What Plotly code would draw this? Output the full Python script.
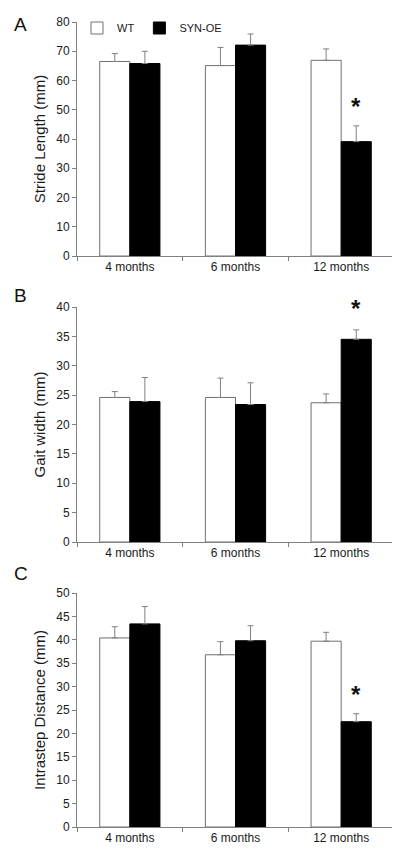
import plotly.graph_objects as go

categories = ["4 months", "6 months", "12 months"]

stride_wt = [66.5, 65.1, 66.9]
stride_wt_err = [2.7, 6.2, 3.9]
stride_syn = [65.8, 72.1, 39.1]
stride_syn_err = [4.2, 3.8, 5.4]

gait_wt = [24.6, 24.6, 23.7]
gait_wt_err = [1.0, 3.3, 1.5]
gait_syn = [23.9, 23.4, 34.5]
gait_syn_err = [4.1, 3.7, 1.6]

intra_wt = [40.4, 36.8, 39.7]
intra_wt_err = [2.4, 2.8, 1.9]
intra_syn = [43.4, 39.8, 22.5]
intra_syn_err = [3.7, 3.2, 1.7]

panels = [
    ("A", "Stride Length (mm)", stride_wt, stride_wt_err, stride_syn, stride_syn_err, 80, 10, 49.2),
    ("B", "Gait width (mm)", gait_wt, gait_wt_err, gait_syn, gait_syn_err, 40, 5, 38.8),
    ("C", "Intrastep Distance (mm)", intra_wt, intra_wt_err, intra_syn, intra_syn_err, 50, 5, 27.0),
]

W, H = 400, 851
ml, mr, mt, mb = 69, 14, 14, 32
ph = H - mt - mb
pw = W - ml - mr

def py(px):
    return 1 - (px - mt) / ph

domains = [(py(248), py(14)), (py(534), py(299)), (py(819), py(585))]
letter_y = [py(17), py(287), py(565)]

fig = go.Figure()
FONT = "Liberation Sans, Arial, sans-serif"
GRAY = "#808080"
TXT = "#1a1a1a"

for i, (letter, title, wt, wte, syn, syne, ymax, dt, star) in enumerate(panels):
    n = "" if i == 0 else str(i + 1)
    xa, ya = "x" + n, "y" + n
    fig.add_trace(go.Bar(
        x=categories, y=wt, name="WT", xaxis=xa, yaxis=ya,
        marker=dict(color="white", line=dict(color="#707070", width=1)),
        error_y=dict(type="data", symmetric=False, array=wte, arrayminus=[0, 0, 0],
                     color=GRAY, thickness=1, width=3),
        showlegend=(i == 0),
    ))
    fig.add_trace(go.Bar(
        x=categories, y=syn, name="SYN-OE", xaxis=xa, yaxis=ya,
        marker=dict(color="black", line=dict(color="black", width=1)),
        error_y=dict(type="data", symmetric=False, array=syne, arrayminus=[0, 0, 0],
                     color=GRAY, thickness=1, width=3),
        showlegend=(i == 0),
    ))
    fig.update_layout(**{
        "xaxis" + n: dict(
            domain=[0, 1], anchor=ya, type="category", tickson="boundaries",
            ticks="outside", ticklen=4, tickcolor=GRAY, showline=True, linecolor=GRAY,
            linewidth=1, tickfont=dict(size=12, color=TXT, family=FONT),
            showgrid=False, zeroline=False, automargin=False,
        ),
        "yaxis" + n: dict(
            domain=list(domains[i]), anchor=xa, range=[0, ymax], dtick=dt,
            ticks="outside", ticklen=4, tickcolor=GRAY, showline=True, linecolor=GRAY,
            linewidth=1, tickfont=dict(size=12, color=TXT, family=FONT),
            showgrid=False, zeroline=False, automargin=False,
            title=dict(text=title, font=dict(size=15, color=TXT, family=FONT), standoff=6),
        ),
    })
    fig.add_annotation(x="12 months", y=star, xref=xa, yref=ya, text="<b>*</b>",
                       showarrow=False, xshift=15, yshift=6,
                       font=dict(size=24, color="#111", family=FONT))
    fig.add_annotation(x=-0.177, y=letter_y[i], xref="paper", yref="paper", text=letter,
                       showarrow=False, xanchor="center", yanchor="middle",
                       font=dict(size=19, color="#111", family=FONT))

fig.update_layout(
    template="none",
    width=W, height=H, margin=dict(l=ml, r=mr, t=mt, b=mb, autoexpand=False),
    paper_bgcolor="white", plot_bgcolor="white",
    barmode="group", bargap=0.43, bargroupgap=0,
    legend=dict(orientation="h", x=0.0, y=py(20), xanchor="left", yanchor="middle",
                font=dict(size=11, color=TXT, family=FONT), itemwidth=30,
                bgcolor="rgba(0,0,0,0)", tracegroupgap=0),
    font=dict(family=FONT),
)

fig.write_html("out.html")
